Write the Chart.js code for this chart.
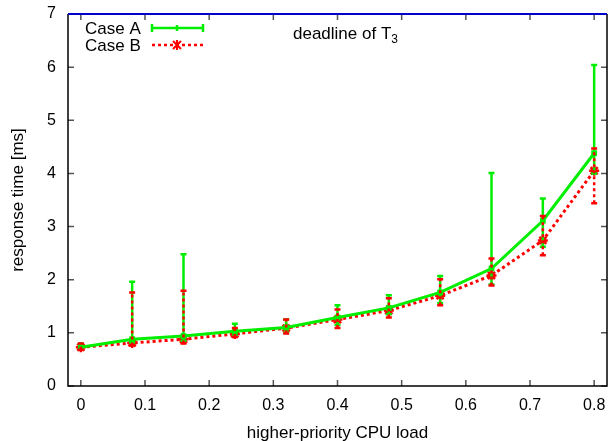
<!DOCTYPE html>
<html>
<head>
<meta charset="utf-8">
<script src="https://cdn.jsdelivr.net/npm/chart.js@4"></script>
<style>
  html, body { margin: 0; padding: 0; background: #fff; }
  #wrap { width: 610px; height: 441px; }
</style>
</head>
<body>
<div id="wrap"><canvas id="chart" width="610" height="441"></canvas></div>
<script>
// higher-priority CPU load
const loads = [0, 0.08, 0.16, 0.24, 0.32, 0.40, 0.48, 0.56, 0.64, 0.72, 0.80];

// Case A: mean, min, max response time [ms]
const caseA    = [0.73, 0.88, 0.94, 1.03, 1.10, 1.29, 1.47, 1.76, 2.21, 3.11, 4.38];
const caseALow = [0.68, 0.82, 0.85, 0.95, 1.00, 1.15, 1.35, 1.56, 1.91, 2.62, 4.00];
const caseAHigh = [0.80, 1.96, 2.48, 1.17, 1.25, 1.52, 1.71, 2.07, 4.01, 3.53, 6.04];

// Case B
const caseB    = [0.73, 0.81, 0.88, 0.98, 1.09, 1.25, 1.42, 1.70, 2.08, 2.74, 4.05];
const caseBLow = [0.68, 0.76, 0.80, 0.92, 0.99, 1.09, 1.29, 1.52, 1.89, 2.46, 3.44];
const caseBHigh = [0.80, 1.76, 1.79, 1.09, 1.25, 1.44, 1.65, 2.01, 2.40, 3.20, 4.47];

const deadline = 7;
const xTicks = [0, 0.1, 0.2, 0.3, 0.4, 0.5, 0.6, 0.7, 0.8];
const yTicks = [0, 1, 2, 3, 4, 5, 6, 7];

const GREEN = '#00ee00';
const RED = '#ff0000';
const FONT = '"Liberation Sans", Arial, sans-serif';

const toPoints = ys => loads.map((x, i) => ({ x: x, y: ys[i] }));

// error bars drawn through the chart scales
const errorBars = {
  id: 'errorBars',
  afterDatasetsDraw(chart) {
    const { ctx, scales: { x, y } } = chart;
    const sets = [
      { lo: caseALow, hi: caseAHigh, color: GREEN, dash: [] },
      { lo: caseBLow, hi: caseBHigh, color: RED, dash: [3, 3] }
    ];
    ctx.save();
    sets.forEach(s => {
      ctx.strokeStyle = s.color;
      ctx.lineWidth = 2.5;
      loads.forEach((v, i) => {
        const px = x.getPixelForValue(v);
        const p1 = y.getPixelForValue(s.lo[i]);
        const p2 = y.getPixelForValue(s.hi[i]);
        ctx.setLineDash(s.dash);
        ctx.beginPath();
        ctx.moveTo(px, p1);
        ctx.lineTo(px, p2);
        ctx.stroke();
        ctx.setLineDash([]);
        ctx.beginPath();
        ctx.moveTo(px - 3, p1); ctx.lineTo(px + 3, p1);
        ctx.moveTo(px - 3, p2); ctx.lineTo(px + 3, p2);
        ctx.stroke();
      });
    });
    ctx.restore();
  }
};

// gnuplot-like frame, inner ticks, deadline, legend
const frame = {
  id: 'frame',
  afterDraw(chart) {
    const { ctx, chartArea: a, scales: { x, y } } = chart;
    ctx.save();
    ctx.strokeStyle = '#555';
    ctx.lineWidth = 1.5;
    xTicks.forEach(v => {
      const px = x.getPixelForValue(v);
      ctx.beginPath();
      ctx.moveTo(px, a.bottom); ctx.lineTo(px, a.bottom - 6);
      ctx.moveTo(px, a.top); ctx.lineTo(px, a.top + 6);
      ctx.stroke();
    });
    yTicks.forEach(v => {
      const py = y.getPixelForValue(v);
      ctx.beginPath();
      ctx.moveTo(a.left, py); ctx.lineTo(a.left + 6, py);
      ctx.moveTo(a.right, py); ctx.lineTo(a.right - 6, py);
      ctx.stroke();
    });
    ctx.strokeStyle = '#000';
    ctx.lineWidth = 1.5;
    ctx.beginPath();
    ctx.moveTo(a.left, a.top);
    ctx.lineTo(a.left, a.bottom);
    ctx.lineTo(a.right, a.bottom);
    ctx.lineTo(a.right, a.top);
    ctx.stroke();
    // deadline line
    const dy = y.getPixelForValue(deadline);
    ctx.strokeStyle = '#0000cc';
    ctx.lineWidth = 2;
    ctx.beginPath();
    ctx.moveTo(a.left, dy); ctx.lineTo(a.right, dy);
    ctx.stroke();

    ctx.fillStyle = '#000';
    ctx.font = '17px ' + FONT;
    ctx.textBaseline = 'middle';
    ctx.textAlign = 'left';
    ctx.fillText('deadline of T', 293, 34);
    const w = ctx.measureText('deadline of T').width;
    ctx.font = '12px ' + FONT;
    ctx.fillText('3', 293 + w, 40);

    // legend
    ctx.font = '17px ' + FONT;
    ctx.textAlign = 'left';
    ctx.fillText('Case A', 85, 29);
    ctx.fillText('Case B', 85, 46);
    ctx.lineWidth = 2.5;
    ctx.strokeStyle = GREEN;
    ctx.beginPath();
    ctx.moveTo(152, 28); ctx.lineTo(203, 28);
    ctx.moveTo(152, 24); ctx.lineTo(152, 32);
    ctx.moveTo(203, 24); ctx.lineTo(203, 32);
    ctx.moveTo(177, 25); ctx.lineTo(177, 31);
    ctx.stroke();
    ctx.strokeStyle = RED;
    ctx.setLineDash([3, 3]);
    ctx.beginPath();
    ctx.moveTo(152, 45); ctx.lineTo(203, 45);
    ctx.stroke();
    ctx.setLineDash([]);
    ctx.lineWidth = 2;
    ctx.beginPath();
    ctx.moveTo(173, 41); ctx.lineTo(181, 49);
    ctx.moveTo(181, 41); ctx.lineTo(173, 49);
    ctx.moveTo(177, 40); ctx.lineTo(177, 50);
    ctx.stroke();
    ctx.restore();
  }
};

new Chart(document.getElementById('chart'), {
  type: 'line',
  data: {
    datasets: [
      {
        label: 'Case A',
        data: toPoints(caseA),
        borderColor: GREEN,
        backgroundColor: GREEN,
        borderWidth: 3,
        pointRadius: 2,
        pointStyle: 'rect',
        fill: false,
        tension: 0
      },
      {
        label: 'Case B',
        data: toPoints(caseB),
        borderColor: RED,
        backgroundColor: RED,
        borderWidth: 3,
        borderDash: [3, 3],
        pointRadius: 5,
        pointBorderWidth: 2.5,
        pointStyle: 'star',
        fill: false,
        tension: 0
      }
    ]
  },
  options: {
    responsive: false,
    animation: false,
    layout: { autoPadding: false, padding: { top: 14, right: 3, left: 0, bottom: 0 } },
    plugins: {
      legend: { display: false },
      tooltip: { enabled: false }
    },
    scales: {
      x: {
        type: 'linear',
        min: -0.02,
        max: 0.82,
        afterBuildTicks: s => { s.ticks = xTicks.map(v => ({ value: v })); },
        grid: { display: false, drawTicks: false },
        border: { display: false },
        ticks: {
          color: '#000',
          font: { family: FONT, size: 16 },
          padding: 10,
          maxRotation: 0,
          callback: v => String(Math.round(v * 10) / 10)
        },
        title: {
          display: true,
          text: 'higher-priority CPU load',
          color: '#000',
          font: { family: FONT, size: 17 },
          padding: { top: 6, bottom: -3 }
        },
        afterFit: s => { s.height = 55; s.paddingLeft = 0; s.paddingRight = 0; }
      },
      y: {
        min: 0,
        max: 7,
        afterBuildTicks: s => { s.ticks = yTicks.map(v => ({ value: v })); },
        grid: { display: false, drawTicks: false },
        border: { display: false },
        ticks: {
          color: '#000',
          font: { family: FONT, size: 16 },
          padding: 12
        },
        title: {
          display: true,
          text: 'response time [ms]',
          color: '#000',
          font: { family: FONT, size: 17 },
          padding: { top: 8, bottom: 0 }
        },
        afterFit: s => { s.width = 68; s.paddingTop = 0; s.paddingBottom = 0; }
      }
    }
  },
  plugins: [errorBars, frame]
});
</script>
</body>
</html>
